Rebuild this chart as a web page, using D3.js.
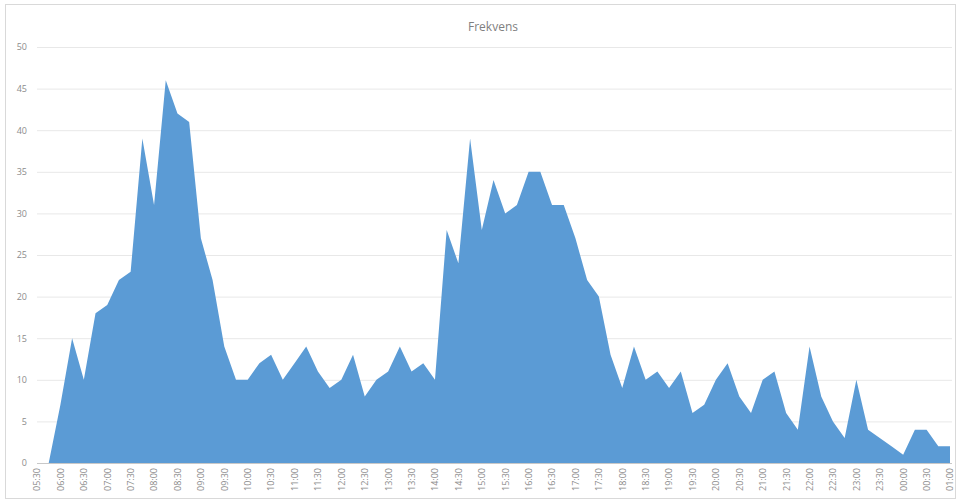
<!DOCTYPE html>
<html lang="no">
<head>
    <meta charset="UTF-8">
    <title>Frekvens</title>
    <style>
        body { margin: 0; background: #fff; }
        svg text { font-family: "Open Sans", "Noto Sans", sans-serif; }
    </style>
</head>
<body>
    <div class="graph-container"></div>

    <script src="https://cdn.jsdelivr.net/npm/d3@7"></script>
    <script>
        // one value every 15 minutes, 05:30 -> 01:00
        var times = ["05:30", "05:45", "06:00", "06:15", "06:30", "06:45", "07:00", "07:15", "07:30", "07:45",
            "08:00", "08:15", "08:30", "08:45", "09:00", "09:15", "09:30", "09:45", "10:00", "10:15",
            "10:30", "10:45", "11:00", "11:15", "11:30", "11:45", "12:00", "12:15", "12:30", "12:45",
            "13:00", "13:15", "13:30", "13:45", "14:00", "14:15", "14:30", "14:45", "15:00", "15:15",
            "15:30", "15:45", "16:00", "16:15", "16:30", "16:45", "17:00", "17:15", "17:30", "17:45",
            "18:00", "18:15", "18:30", "18:45", "19:00", "19:15", "19:30", "19:45", "20:00", "20:15",
            "20:30", "20:45", "21:00", "21:15", "21:30", "21:45", "22:00", "22:15", "22:30", "22:45",
            "23:00", "23:15", "23:30", "23:45", "00:00", "00:15", "00:30", "00:45", "01:00"];

        var frekvens = [0, 0, 7, 15, 10, 18, 19, 22, 23, 39,
            31, 46, 42, 41, 27, 22, 14, 10, 10, 12,
            13, 10, 12, 14, 11, 9, 10, 13, 8, 10,
            11, 14, 11, 12, 10, 28, 24, 39, 28, 34,
            30, 31, 35, 35, 31, 31, 27, 22, 20, 13,
            9, 14, 10, 11, 9, 11, 6, 7, 10, 12,
            8, 6, 10, 11, 6, 4, 14, 8, 5, 3,
            10, 4, 3, 2, 1, 4, 4, 2, 2];

        var yTicks = [0, 5, 10, 15, 20, 25, 30, 35, 40, 45, 50];

        // only every half hour gets a label
        var xLabels = times.filter(function(d) { return d.slice(3) === "00" || d.slice(3) === "30"; });

        var canvasWidth = 957;
        var canvasHeight = 501;

        var svg = d3.select(".graph-container")
            .append("svg")
            .attr("width", canvasWidth)
            .attr("height", canvasHeight);

        // chart frame
        svg.append("rect")
            .attr("x", 5.5)
            .attr("y", 4.5)
            .attr("width", 950)
            .attr("height", 494)
            .attr("fill", "#fff")
            .attr("stroke", "#d9d9d9");

        var x = d3.scalePoint()
            .domain(times)
            .range([37, 950]);

        var y = d3.scaleLinear()
            .domain([0, 50])
            .range([463, 47]);

        // gridlines
        svg.append("g")
            .selectAll("line")
            .data(yTicks)
            .enter()
                .append("line")
                .attr("x1", 37)
                .attr("x2", 952)
                .attr("y1", function(d) { return y(d) + 0.5; })
                .attr("y2", function(d) { return y(d) + 0.5; })
                .attr("stroke", "#e8e8e8");

        var area = d3.area()
            .x(function(d, i) { return x(times[i]); })
            .y0(y(0))
            .y1(function(d) { return y(d); });

        svg.append("path")
            .datum(frekvens)
            .attr("d", area)
            .attr("fill", "#5b9bd5");

        // y axis labels
        var yAxis = svg.append("g")
            .attr("transform", "translate(27,0)")
            .call(d3.axisLeft(y).tickValues(yTicks).tickSize(0).tickPadding(0));
        yAxis.select(".domain").remove();
        yAxis.selectAll("text")
            .attr("fill", "#8c8c8c")
            .style("font-size", "9px");

        // x axis
        var xAxis = svg.append("g")
            .attr("transform", "translate(0," + y(0) + ")")
            .call(d3.axisBottom(x).tickValues(xLabels).tickSize(0).tickPadding(0));
        xAxis.select(".domain")
            .attr("stroke", "#c8c8c8")
            .attr("d", "M37,0.5H952");
        xAxis.selectAll(".tick text")
            .attr("fill", "#8c8c8c")
            .style("font-size", "9px")
            .attr("dy", "0.32em")
            .attr("y", 0)
            .attr("x", -5)
            .attr("text-anchor", "end")
            .attr("transform", "rotate(-90)");

        // chart title
        svg.append("text")
            .attr("x", 493)
            .attr("y", 31)
            .attr("text-anchor", "middle")
            .attr("fill", "#7f7f7f")
            .style("font-size", "12px")
            .text("Frekvens");
    </script>
</body>
</html>
